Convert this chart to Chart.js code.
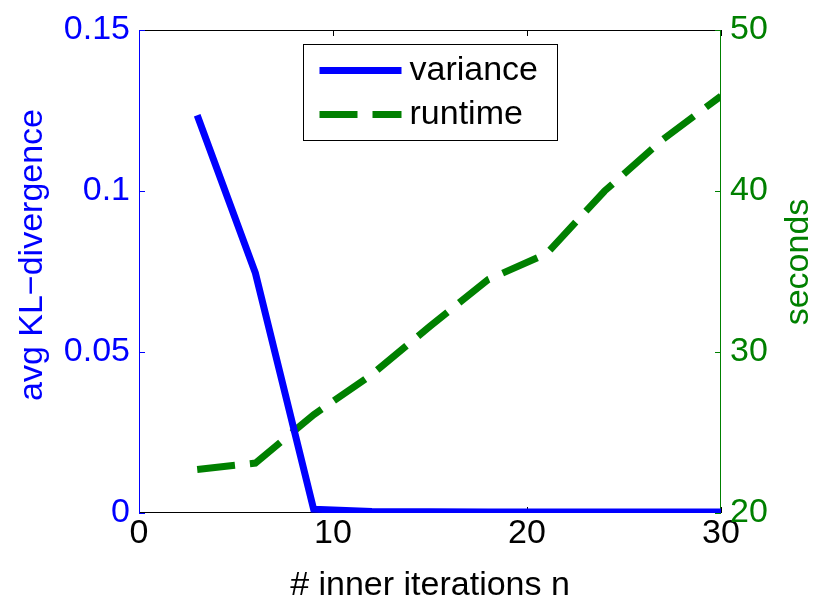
<!DOCTYPE html>
<html>
<head>
<meta charset="utf-8">
<script src="https://cdn.jsdelivr.net/npm/chart.js@4.4.0/dist/chart.umd.min.js"></script>
<style>
  html, body { margin: 0; padding: 0; background: #fff; }
  #wrap { width: 830px; height: 608px; }
</style>
</head>
<body>
<div id="wrap"><canvas id="myCanvas" width="830" height="608"></canvas></div>
<script>
// inner iterations n
var iterations = [3, 6, 9, 12, 15, 18, 21, 24, 27, 30];
// avg KL-divergence (left axis)
var variance = [0.1235, 0.0745, 0.0012, 0.0005, 0.0004, 0.0003, 0.0003, 0.0003, 0.0003, 0.0003];
// runtime in seconds (right axis)
var runtime = [22.7, 23.1, 26.1, 28.6, 31.6, 34.5, 36.1, 40.0, 43.2, 45.9];

var xTicks = [0, 10, 20, 30];
var leftTicks = [0, 0.05, 0.1, 0.15];
var rightTicks = [20, 30, 40, 50];

var BLUE = '#0000ff';
var GREEN = '#008000';
var FONT = '"Liberation Sans", Arial, Helvetica, sans-serif';

function pts(ys) {
  return iterations.map(function(x, i) { return { x: x, y: ys[i] }; });
}

// frame, inward ticks, y titles and boxed legend
var matlabLook = {
  id: 'matlabLook',
  beforeDatasetsDraw: function(chart) {
    var ctx = chart.ctx, a = chart.chartArea;
    var sx = chart.scales.x, sl = chart.scales.y, sr = chart.scales.y2;
    ctx.save();
    ctx.lineWidth = 1;
    // top / bottom
    ctx.strokeStyle = '#000';
    ctx.beginPath();
    ctx.moveTo(a.left, a.top + 0.5); ctx.lineTo(a.right, a.top + 0.5);
    ctx.moveTo(a.left, a.bottom - 0.5); ctx.lineTo(a.right, a.bottom - 0.5);
    xTicks.forEach(function(v) {
      var px = Math.round(sx.getPixelForValue(v)) + 0.5;
      ctx.moveTo(px, a.bottom); ctx.lineTo(px, a.bottom - 6);
      ctx.moveTo(px, a.top); ctx.lineTo(px, a.top + 6);
    });
    ctx.stroke();
    // left axis
    ctx.strokeStyle = BLUE;
    ctx.beginPath();
    ctx.moveTo(a.left + 0.5, a.top); ctx.lineTo(a.left + 0.5, a.bottom);
    leftTicks.forEach(function(v) {
      var py = Math.round(sl.getPixelForValue(v)) + 0.5;
      ctx.moveTo(a.left, py); ctx.lineTo(a.left + 6, py);
    });
    ctx.stroke();
    // right axis
    ctx.strokeStyle = GREEN;
    ctx.beginPath();
    ctx.moveTo(a.right - 0.5, a.top); ctx.lineTo(a.right - 0.5, a.bottom);
    rightTicks.forEach(function(v) {
      var py = Math.round(sr.getPixelForValue(v)) + 0.5;
      ctx.moveTo(a.right, py); ctx.lineTo(a.right - 6, py);
    });
    ctx.stroke();

    // y titles, both reading bottom to top
    ctx.font = '34px ' + FONT;
    ctx.textAlign = 'center';
    ctx.textBaseline = 'alphabetic';
    ctx.fillStyle = BLUE;
    ctx.save();
    ctx.translate(42, 255);
    ctx.rotate(-Math.PI / 2);
    ctx.fillText('avg KL\u2212divergence', 0, 0);
    ctx.restore();
    ctx.fillStyle = GREEN;
    ctx.save();
    ctx.translate(808, 262);
    ctx.rotate(-Math.PI / 2);
    ctx.fillText('seconds', 0, 0);
    ctx.restore();
    ctx.restore();
  },
  afterDatasetsDraw: function(chart) {
    var ctx = chart.ctx, a = chart.chartArea;
    var bx = a.left + 164.5, by = a.top + 14.5, bw = 254, bh = 96;
    ctx.save();
    ctx.fillStyle = '#fff';
    ctx.fillRect(bx, by, bw, bh);
    ctx.strokeStyle = '#000';
    ctx.lineWidth = 1;
    ctx.strokeRect(bx, by, bw, bh);
    chart.data.datasets.forEach(function(ds, i) {
      var ly = by + 26 + i * 44;
      ctx.strokeStyle = ds.borderColor;
      ctx.lineWidth = ds.borderWidth;
      ctx.setLineDash(ds.borderDash || []);
      ctx.beginPath();
      ctx.moveTo(bx + 16, ly);
      ctx.lineTo(bx + 98, ly);
      ctx.stroke();
      ctx.setLineDash([]);
      ctx.fillStyle = '#000';
      ctx.font = '34px ' + FONT;
      ctx.textAlign = 'left';
      ctx.textBaseline = 'middle';
      ctx.fillText(ds.label, bx + 106, ly);
    });
    ctx.restore();
  }
};

var ctx = document.getElementById('myCanvas');

var data = {
  datasets: [
    {
      label: 'variance',
      data: pts(variance),
      yAxisID: 'y',
      borderColor: BLUE,
      backgroundColor: BLUE,
      borderWidth: 7,
      fill: false,
      tension: 0,
      pointRadius: 0
    }, {
      label: 'runtime',
      data: pts(runtime),
      yAxisID: 'y2',
      borderColor: GREEN,
      backgroundColor: GREEN,
      borderWidth: 7,
      borderDash: [38, 15],
      fill: false,
      tension: 0,
      pointRadius: 0
    }
  ]
};

var options = {
  responsive: false,
  animation: false,
  layout: { padding: { top: 30, left: 0, right: 0, bottom: 0 } },
  plugins: {
    legend: { display: false },
    tooltip: { enabled: false }
  },
  scales: {
    x: {
      type: 'linear',
      position: 'bottom',
      min: 0,
      max: 30,
      afterBuildTicks: function(s) { s.ticks = xTicks.map(function(v) { return { value: v }; }); },
      afterFit: function(s) { s.height = 95; },
      ticks: { color: '#000', padding: 0, maxRotation: 0, font: { family: FONT, size: 34 } },
      grid: { display: false, drawTicks: false },
      border: { display: false },
      title: {
        display: true,
        text: '# inner iterations n',
        color: '#000',
        padding: { top: 0, bottom: 2 },
        font: { family: FONT, size: 34 }
      }
    },
    y: {
      type: 'linear',
      position: 'left',
      min: 0,
      max: 0.15,
      afterBuildTicks: function(s) { s.ticks = leftTicks.map(function(v) { return { value: v }; }); },
      afterFit: function(s) { s.width = 139; },
      ticks: {
        color: BLUE,
        padding: 9,
        font: { family: FONT, size: 34 },
        callback: function(v) { return String(+v.toFixed(2)); }
      },
      grid: { display: false, drawTicks: false },
      border: { display: false }
    },
    y2: {
      type: 'linear',
      position: 'right',
      min: 20,
      max: 50,
      afterBuildTicks: function(s) { s.ticks = rightTicks.map(function(v) { return { value: v }; }); },
      afterFit: function(s) { s.width = 109; },
      ticks: { color: GREEN, padding: 9, font: { family: FONT, size: 34 } },
      grid: { display: false, drawTicks: false },
      border: { display: false }
    }
  }
};

var chart = new Chart(ctx, {
  type: 'line',
  data: data,
  options: options,
  plugins: [matlabLook]
});
</script>
</body>
</html>
